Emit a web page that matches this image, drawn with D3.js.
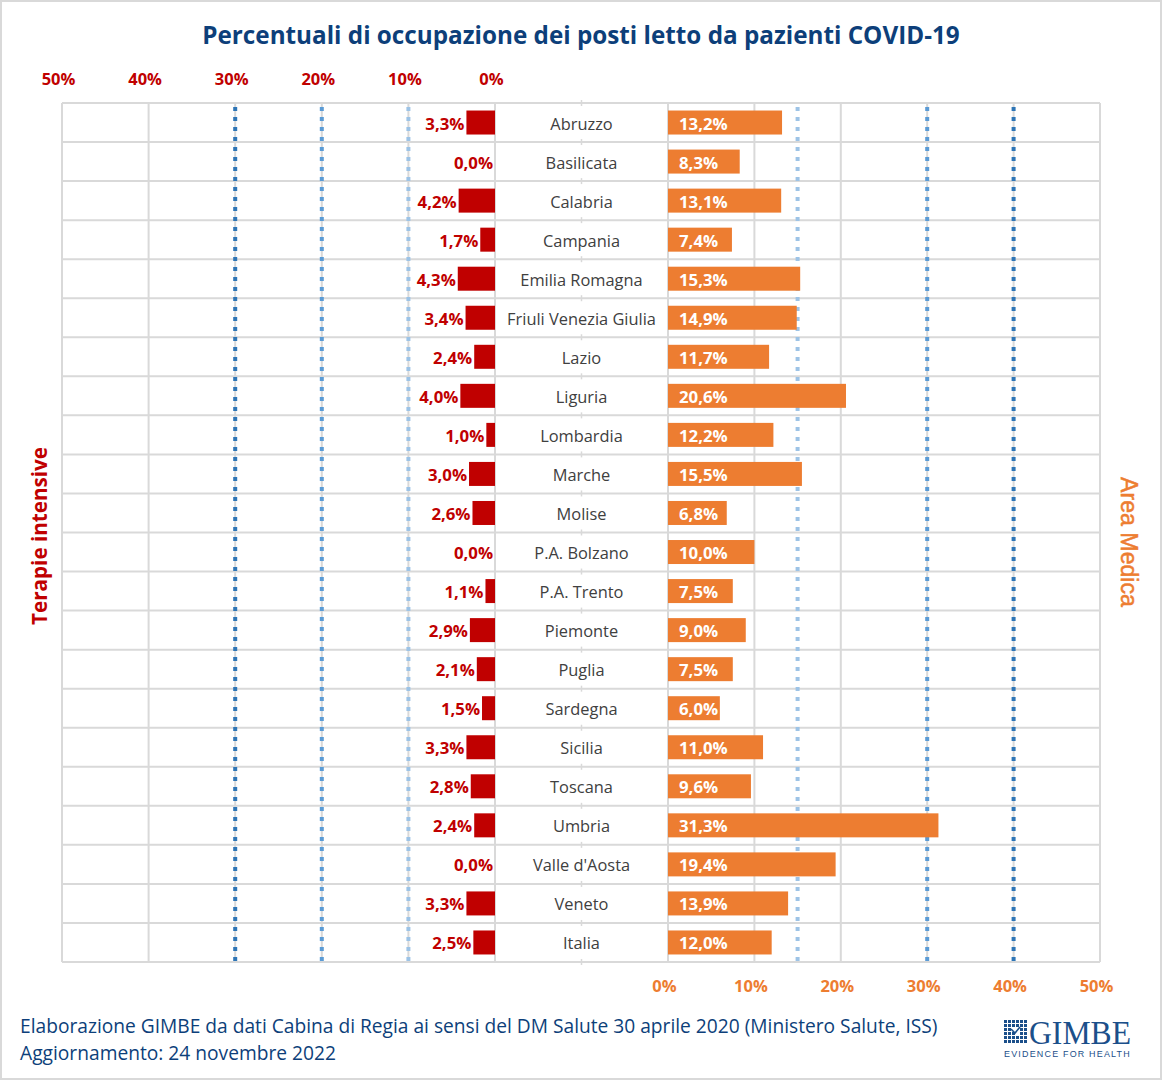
<!DOCTYPE html>
<html><head><meta charset="utf-8">
<script src="https://cdn.jsdelivr.net/npm/d3@7"></script>
<style>
html,body{margin:0;padding:0;background:#fff;}
svg{display:block;font-family:"Open Sans",sans-serif;}
</style></head>
<body>
<svg id="chart" width="1162" height="1080"></svg>
<script>
const regions = ["Abruzzo","Basilicata","Calabria","Campania","Emilia Romagna","Friuli Venezia Giulia","Lazio","Liguria","Lombardia","Marche","Molise","P.A. Bolzano","P.A. Trento","Piemonte","Puglia","Sardegna","Sicilia","Toscana","Umbria","Valle d'Aosta","Veneto","Italia"];
const terapieIntensive = [3.3,0.0,4.2,1.7,4.3,3.4,2.4,4.0,1.0,3.0,2.6,0.0,1.1,2.9,2.1,1.5,3.3,2.8,2.4,0.0,3.3,2.5];
const areaMedica = [13.2,8.3,13.1,7.4,15.3,14.9,11.7,20.6,12.2,15.5,6.8,10.0,7.5,9.0,7.5,6.0,11.0,9.6,31.3,19.4,13.9,12.0];
const tickValues = [0,10,20,30,40,50];
const thresholdsTI = [10,20,30];
const thresholdsAM = [15,30,40];

(function(){
const fmt = v => v.toFixed(1).replace(".", ",") + "%";
const svg = d3.select("#chart");

svg.append("rect").attr("x",1).attr("y",1).attr("width",1160).attr("height",1078)
  .attr("fill","#fff").attr("stroke","#d9d9d9").attr("stroke-width",2);

function fit(sel, w){
  const n = sel.node();
  const fs = parseFloat(sel.attr("font-size"));
  const len = n.getComputedTextLength();
  if(len>0) sel.attr("font-size", fs*w/len);
  return sel;
}

const plotTop = 103, plotBottom = 962;
const xL = d3.scaleLinear().domain([0,50]).range([495,62]);
const xR = d3.scaleLinear().domain([0,50]).range([668,1100]);
const y = d3.scaleBand().domain(regions).range([plotTop,plotBottom]).paddingInner(0).paddingOuter(0);
const barH = 24;

fit(svg.append("text").attr("x",581).attr("y",44).attr("text-anchor","middle")
  .attr("font-size",24).attr("font-weight","bold").attr("fill","#0d3f7a")
  .text("Percentuali di occupazione dei posti letto da pazienti COVID-19"), 758);

const grid = svg.append("g").attr("stroke","#d9d9d9").attr("stroke-width",2);
tickValues.forEach(t=>{
  grid.append("line").attr("x1",xL(t)).attr("x2",xL(t)).attr("y1",plotTop).attr("y2",plotBottom);
  grid.append("line").attr("x1",xR(t)).attr("x2",xR(t)).attr("y1",plotTop).attr("y2",plotBottom);
});
const bounds = regions.map(r=>y(r)).concat([plotBottom]);
bounds.forEach(b=>{
  grid.append("line").attr("x1",62).attr("x2",1100).attr("y1",b).attr("y2",b);
});
bounds.forEach(b=>{
  svg.append("line").attr("x1",581.5).attr("x2",581.5).attr("y1",b-3).attr("y2",b+3)
    .attr("stroke","#d9d9d9").attr("stroke-width",1.5);
});

const dashColors = ["#9dc3e6","#5b9bd5","#2e75b6"];
thresholdsTI.forEach((t,i)=>{
  svg.append("line").attr("x1",xL(t)).attr("x2",xL(t)).attr("y1",107).attr("y2",plotBottom)
    .attr("stroke",dashColors[i]).attr("stroke-width",4).attr("stroke-dasharray","4,6");
});
thresholdsAM.forEach((t,i)=>{
  svg.append("line").attr("x1",xR(t)).attr("x2",xR(t)).attr("y1",107).attr("y2",plotBottom)
    .attr("stroke",dashColors[i]).attr("stroke-width",4).attr("stroke-dasharray","4,6");
});

const rowC = r => y(r) + y.bandwidth()/2;
svg.append("g").selectAll("rect").data(regions).join("rect")
  .attr("x",(d,i)=>xL(terapieIntensive[i])).attr("y",d=>rowC(d)-barH/2)
  .attr("width",(d,i)=>xL(0)-xL(terapieIntensive[i])).attr("height",barH)
  .attr("fill","#c00000");
svg.append("g").selectAll("text").data(regions).join("text")
  .attr("x",(d,i)=>xL(terapieIntensive[i])-2).attr("y",d=>rowC(d)+7)
  .attr("text-anchor","end").attr("font-size",16.8).attr("font-weight","bold")
  .attr("fill","#c00000").text((d,i)=>fmt(terapieIntensive[i]));

svg.append("g").selectAll("rect").data(regions).join("rect")
  .attr("x",xR(0)).attr("y",d=>rowC(d)-barH/2)
  .attr("width",(d,i)=>xR(areaMedica[i])-xR(0)).attr("height",barH)
  .attr("fill","#ed7d31");
svg.append("g").selectAll("text").data(regions).join("text")
  .attr("x",xR(0)+11).attr("y",d=>rowC(d)+7)
  .attr("font-size",16.8).attr("font-weight","bold")
  .attr("fill","#fff").text((d,i)=>fmt(areaMedica[i]));

svg.append("g").selectAll("text").data(regions).join("text")
  .attr("x",581.5).attr("y",d=>rowC(d)+7).attr("text-anchor","middle")
  .attr("font-size",16.4).attr("fill","#404040").text(d=>d);

const axTop = d3.axisTop(xL).tickValues(tickValues).tickFormat(d=>d+"%").tickSize(0);
const gT = svg.append("g").attr("transform","translate(-4,85)").call(axTop);
gT.select(".domain").remove();
gT.selectAll("text").attr("font-size",16.5).attr("font-weight","bold").attr("fill","#c00000")
  .attr("font-family","'Open Sans',sans-serif").attr("dy",0).attr("y",0);
const axBot = d3.axisBottom(xR).tickValues(tickValues).tickFormat(d=>d+"%").tickSize(0);
const gB = svg.append("g").attr("transform","translate(-4,992)").call(axBot);
gB.select(".domain").remove();
gB.selectAll("text").attr("font-size",16.5).attr("font-weight","bold").attr("fill","#ed7d31")
  .attr("font-family","'Open Sans',sans-serif").attr("dy",0).attr("y",0);

fit(svg.append("text").attr("transform","translate(47,536) rotate(-90)").attr("text-anchor","middle")
  .attr("font-size",21).attr("font-weight","bold").attr("fill","#c00000").text("Terapie intensive"),178);
fit(svg.append("text").attr("transform","translate(1121,542) rotate(90)").attr("text-anchor","middle")
  .attr("font-family","'Liberation Sans',Arial,sans-serif")
  .attr("font-size",21).attr("fill","#ed7d31").attr("stroke","#ed7d31").attr("stroke-width",0.5)
  .text("Area Medica"),130);

fit(svg.append("text").attr("x",20).attr("y",1033).attr("font-size",18).attr("fill","#0d3f7a")
  .text("Elaborazione GIMBE da dati Cabina di Regia ai sensi del DM Salute 30 aprile 2020 (Ministero Salute, ISS)"),918);
fit(svg.append("text").attr("x",20).attr("y",1060).attr("font-size",18).attr("fill","#0d3f7a")
  .text("Aggiornamento: 24 novembre 2022"),316);

const logo = svg.append("g").attr("fill","#1b4f8a");
for(let r=0;r<6;r++){
  for(let c=0;c<6;c++){
    if((r===2&&c>=2&&c<=3)||(r===3&&c===3)) continue;
    logo.append("rect").attr("x",1004+c*4).attr("y",1020+r*4).attr("width",3).attr("height",3);
  }
}
logo.append("path").attr("d","M1011,1029 L1015,1033 L1020,1027").attr("fill","none")
  .attr("stroke","#1b4f8a").attr("stroke-width",1.6);
const gimbe = svg.append("text").attr("x",1029).attr("y",1044).attr("font-family","'Liberation Serif','DejaVu Serif',serif")
  .attr("font-size",26).attr("fill","#1b4f8a").text("GIMBE");
const gl = gimbe.node().getComputedTextLength();
gimbe.attr("transform",`translate(1029,1044) scale(${102/gl},1.3) translate(-1029,-1044)`);
fit(svg.append("text").attr("x",1004).attr("y",1057).attr("font-family","'Liberation Sans',sans-serif")
  .attr("font-size",9).attr("letter-spacing",1.2).attr("fill","#1b4f8a").text("EVIDENCE FOR HEALTH"),127);
})();
</script>
</body></html>
